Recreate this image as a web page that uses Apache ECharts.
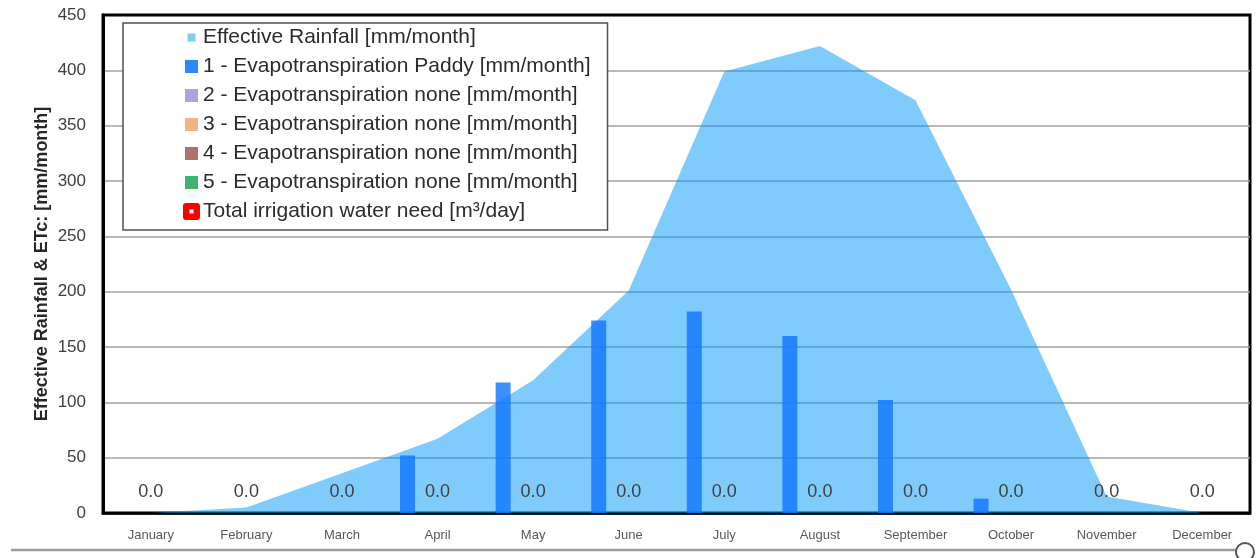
<!DOCTYPE html>
<html>
<head>
<meta charset="utf-8">
<script src="https://cdn.jsdelivr.net/npm/echarts@6/dist/echarts.min.js"></script>
<style>
  html, body { margin: 0; padding: 0; background: #ffffff; }
  #chart { width: 1256px; height: 558px; }
</style>
</head>
<body>
<div id="chart"></div>
<script>
// Monthly water balance: effective rainfall vs. crop evapotranspiration
const months = ['January', 'February', 'March', 'April', 'May', 'June',
  'July', 'August', 'September', 'October', 'November', 'December'];

const effectiveRainfall = [0, 5, 36, 67, 120, 201, 399, 422, 373, 202, 15, 0];
const etPaddy = [0, 0, 0, 52, 118, 174, 182, 160, 102, 13, 0, 0];
const etCrop2 = [0, 0, 0, 0, 0, 0, 0, 0, 0, 0, 0, 0];
const etCrop3 = [0, 0, 0, 0, 0, 0, 0, 0, 0, 0, 0, 0];
const etCrop4 = [0, 0, 0, 0, 0, 0, 0, 0, 0, 0, 0, 0];
const etCrop5 = [0, 0, 0, 0, 0, 0, 0, 0, 0, 0, 0, 0];
const irrigationNeed = [0, 0, 0, 0, 0, 0, 0, 0, 0, 0, 0, 0];

const yMin = 0, yMax = 450, yStep = 50;

const NAMES = {
  rain: 'Effective Rainfall [mm/month]',
  et1: '1 - Evapotranspiration Paddy [mm/month]',
  et2: '2 - Evapotranspiration none [mm/month]',
  et3: '3 - Evapotranspiration none [mm/month]',
  et4: '4 - Evapotranspiration none [mm/month]',
  et5: '5 - Evapotranspiration none [mm/month]',
  irr: 'Total irrigation water need [m\u00b3/day]'
};

const FONT = '"Liberation Sans", Arial, sans-serif';
const COL = {
  rain: 'rgba(0,152,247,0.5)',
  et1: 'rgba(18,118,255,0.82)',
  et2: '#b4a0dc',
  et3: '#f4b183',
  et4: '#b07070',
  et5: '#3cb371',
  irr: '#ff0000'
};

// legend glyphs (17x17 box): small square, regular square, ring marker
const ICON_SMALL = 'path://M0,0M4.5,4.5L12.5,4.5L12.5,12.5L4.5,12.5ZM17,17';
const ICON_SQUARE = 'path://M0,0M2,2L15,2L15,15L2,15ZM17,17';
const ICON_RING = 'path://M3,0L14,0Q17,0 17,3L17,14Q17,17 14,17L3,17Q0,17 0,14L0,3Q0,0 3,0ZM6.5,6.5L6.5,10.5L10.5,10.5L10.5,6.5Z';

function barSeries(key, data) {
  return {
    name: NAMES[key], type: 'bar', data: data,
    barWidth: 15, barGap: '0%',
    itemStyle: { color: COL[key] },
    z: 3
  };
}

const chart = echarts.init(document.getElementById('chart'), null, { renderer: 'canvas' });

chart.setOption({
  animation: false,
  backgroundColor: '#ffffff',
  grid: {
    left: 103, right: 6, top: 15, bottom: 45,
    show: true, borderColor: '#000000', borderWidth: 3,
    backgroundColor: 'transparent'
  },
  legend: {
    orient: 'vertical',
    left: 123, top: 23,
    padding: [4, 17, 8, 60],
    itemWidth: 17, itemHeight: 17, itemGap: 8,
    backgroundColor: '#ffffff',
    borderColor: '#505050', borderWidth: 1.5,
    selectedMode: false,
    textStyle: { fontFamily: FONT, fontSize: 21, lineHeight: 21, color: '#2b2b2b', padding: [0, 0, 0, -2] },
    data: [
      { name: NAMES.rain, icon: ICON_SMALL, itemStyle: { color: '#7fcbfb' } },
      { name: NAMES.et1, icon: ICON_SQUARE, itemStyle: { color: '#2a88ff' } },
      { name: NAMES.et2, icon: ICON_SQUARE, itemStyle: { color: COL.et2 } },
      { name: NAMES.et3, icon: ICON_SQUARE, itemStyle: { color: COL.et3 } },
      { name: NAMES.et4, icon: ICON_SQUARE, itemStyle: { color: COL.et4 } },
      { name: NAMES.et5, icon: ICON_SQUARE, itemStyle: { color: COL.et5 } },
      { name: NAMES.irr, icon: ICON_RING, itemStyle: { color: COL.irr } }
    ]
  },
  xAxis: {
    type: 'category',
    data: months,
    boundaryGap: true,
    axisLine: { show: true, lineStyle: { color: '#000000', width: 2.5 } },
    axisTick: { show: false },
    axisLabel: { fontFamily: FONT, fontSize: 13, color: '#595959', margin: 16 },
    splitLine: { show: false }
  },
  yAxis: {
    type: 'value',
    min: yMin, max: yMax, interval: yStep,
    name: 'Effective Rainfall & ETc: [mm/month]',
    nameLocation: 'middle',
    nameGap: 52,
    nameMoveOverlap: false,
    nameTextStyle: { fontFamily: FONT, fontSize: 18, fontWeight: 'bold', color: '#262626' },
    axisLine: { show: true, lineStyle: { color: '#000000', width: 3 } },
    axisTick: { show: false },
    axisLabel: { fontFamily: FONT, fontSize: 17, color: '#404040', margin: 17 },
    splitLine: {
      show: true, showMinLine: false, showMaxLine: false,
      lineStyle: { color: '#a0a0a0', width: 1.5 }
    }
  },
  series: [
    {
      name: NAMES.rain, type: 'line', data: effectiveRainfall,
      symbol: 'none', smooth: false,
      lineStyle: { width: 0, color: COL.rain },
      itemStyle: { color: COL.rain },
      areaStyle: { color: COL.rain, opacity: 1 },
      z: 2
    },
    barSeries('et1', etPaddy),
    barSeries('et2', etCrop2),
    barSeries('et3', etCrop3),
    barSeries('et4', etCrop4),
    barSeries('et5', etCrop5),
    {
      name: NAMES.irr, type: 'line', data: irrigationNeed,
      symbol: 'circle', symbolSize: 1, showSymbol: true,
      itemStyle: { color: 'rgba(0,0,0,0)' },
      lineStyle: { width: 0, color: 'rgba(0,0,0,0)' },
      label: {
        show: true, position: 'top', distance: 11,
        fontFamily: FONT, fontSize: 18, color: '#404040',
        formatter: p => Number(p.value).toFixed(1)
      },
      z: 5
    }
  ],
  graphic: [
    {
      type: 'line', silent: true, z: 10,
      shape: { x1: 11, y1: 550, x2: 1236, y2: 550 },
      style: { stroke: '#9a9a9a', lineWidth: 2.5 }
    },
    {
      type: 'circle', silent: true, z: 11,
      shape: { cx: 1245, cy: 552, r: 9 },
      style: { fill: '#ffffff', stroke: '#555555', lineWidth: 2 }
    }
  ]
});
</script>
</body>
</html>
